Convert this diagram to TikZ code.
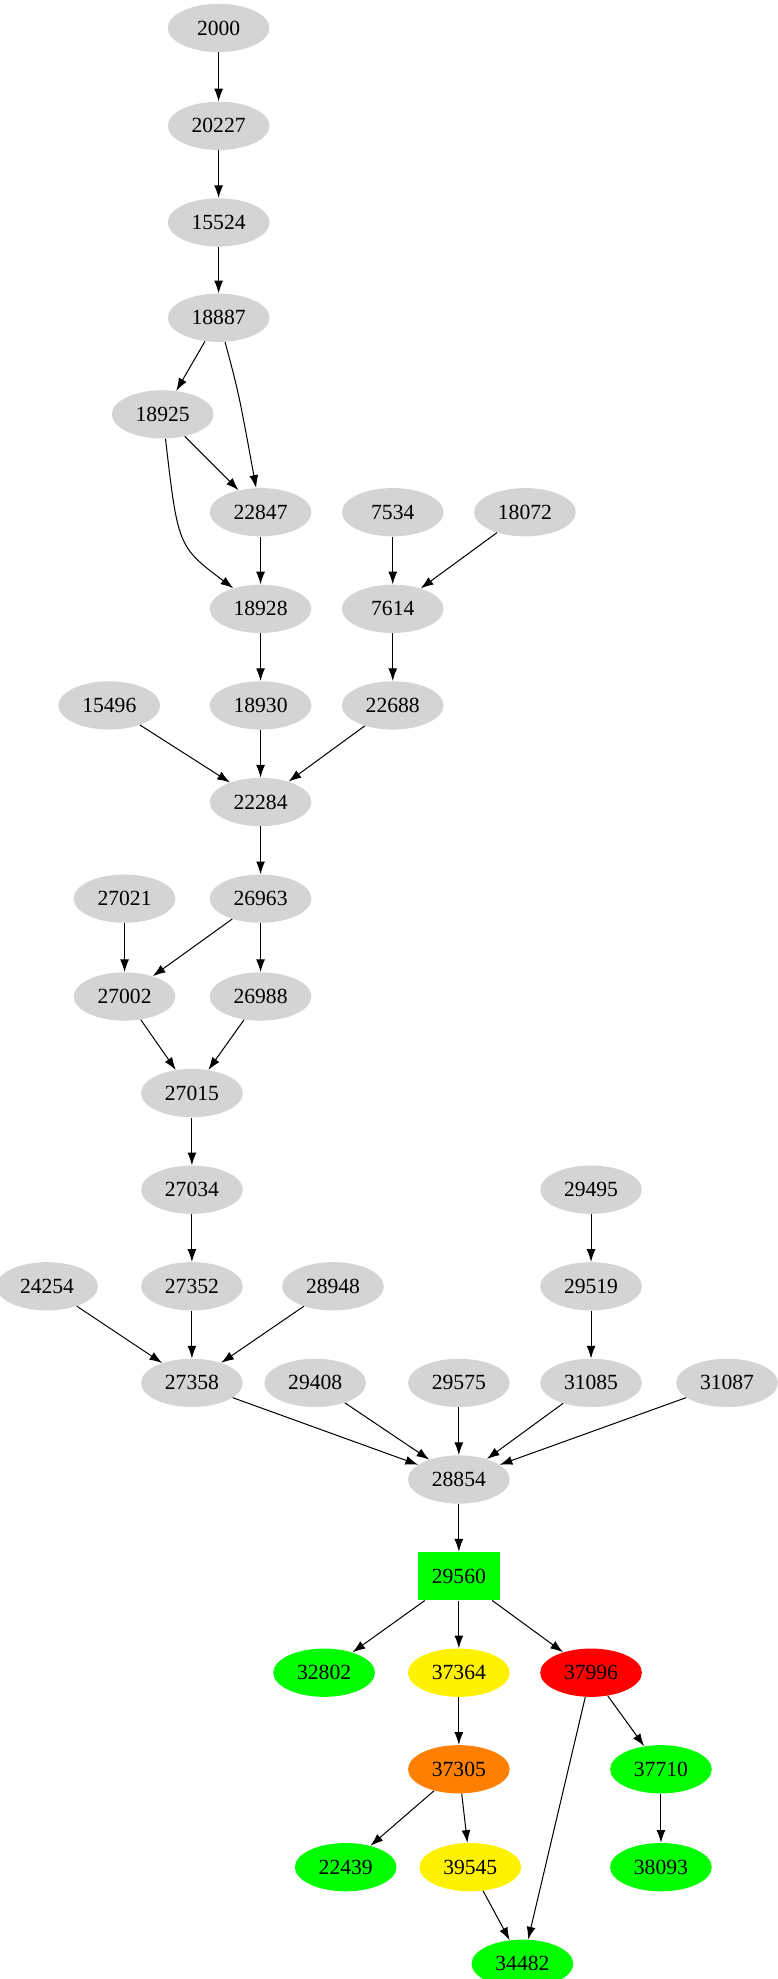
\documentclass[tikz,border=0pt]{standalone}
\usepackage{fontspec}
\setmainfont{Liberation Serif}
\usetikzlibrary{shapes.geometric,arrows.meta}
\begin{document}
\begin{tikzpicture}[x=1pt,y=-1pt,
  nd/.style={ellipse,fill=#1,minimum width=80pt,minimum height=38pt,inner sep=0pt,font=\fontsize{17}{17}\selectfont},
  nd/.default={black!17},
  bx/.style={rectangle,fill=#1,minimum width=64pt,minimum height=38pt,inner sep=0pt,font=\fontsize{17}{17}\selectfont},
  e/.style={-{Latex[length=10pt,width=7pt]},line width=0.8pt}]
\useasboundingbox (0,0) rectangle (612,1557);
\node[nd] (n2000) at (172,22) {2000};
\node[nd] (n20227) at (172,99) {20227};
\node[nd] (n15524) at (172,175) {15524};
\node[nd] (n18887) at (172,250) {18887};
\node[nd] (n18925) at (128,326) {18925};
\node[nd] (n22847) at (205,403) {22847};
\node[nd] (n7534) at (309,403) {7534};
\node[nd] (n18072) at (413,403) {18072};
\node[nd] (n18928) at (205,479) {18928};
\node[nd] (n7614) at (309,479) {7614};
\node[nd] (n15496) at (86,555) {15496};
\node[nd] (n18930) at (205,555) {18930};
\node[nd] (n22688) at (309,555) {22688};
\node[nd] (n22284) at (205,631) {22284};
\node[nd] (n27021) at (98,707) {27021};
\node[nd] (n26963) at (205,707) {26963};
\node[nd] (n27002) at (98,784) {27002};
\node[nd] (n26988) at (205,784) {26988};
\node[nd] (n27015) at (151,860) {27015};
\node[nd] (n27034) at (151,936) {27034};
\node[nd] (n29495) at (465,936) {29495};
\node[nd] (n24254) at (37,1012) {24254};
\node[nd] (n27352) at (151,1012) {27352};
\node[nd] (n28948) at (262,1012) {28948};
\node[nd] (n29519) at (465,1012) {29519};
\node[nd] (n27358) at (151,1088) {27358};
\node[nd] (n29408) at (248,1088) {29408};
\node[nd] (n29575) at (361,1088) {29575};
\node[nd] (n31085) at (465,1088) {31085};
\node[nd] (n31087) at (572,1088) {31087};
\node[nd] (n28854) at (361,1164) {28854};
\node[bx=green] (n29560) at (361,1240) {29560};
\node[nd=green] (n32802) at (255,1316) {32802};
\node[nd=yellow] (n37364) at (361,1316) {37364};
\node[nd=red] (n37996) at (465,1316) {37996};
\node[nd=orange] (n37305) at (361,1392) {37305};
\node[nd=green] (n37710) at (520,1392) {37710};
\node[nd=green] (n22439) at (272,1469) {22439};
\node[nd=yellow] (n39545) at (370,1469) {39545};
\node[nd=green] (n38093) at (520,1469) {38093};
\node[nd=green] (n34482) at (411,1545) {34482};
\draw[e] (n2000)--(n20227);
\draw[e] (n20227)--(n15524);
\draw[e] (n15524)--(n18887);
\draw[e] (n18887)--(n18925);
\draw[e] (n18887) .. controls (188,310) .. (n22847);
\draw[e] (n18925)--(n22847);
\draw[e] (n18925) .. controls (140,430) .. (n18928);
\draw[e] (n22847)--(n18928);
\draw[e] (n7534)--(n7614);
\draw[e] (n18072)--(n7614);
\draw[e] (n18928)--(n18930);
\draw[e] (n7614)--(n22688);
\draw[e] (n15496)--(n22284);
\draw[e] (n18930)--(n22284);
\draw[e] (n22688)--(n22284);
\draw[e] (n22284)--(n26963);
\draw[e] (n27021)--(n27002);
\draw[e] (n26963)--(n27002);
\draw[e] (n26963)--(n26988);
\draw[e] (n27002)--(n27015);
\draw[e] (n26988)--(n27015);
\draw[e] (n27015)--(n27034);
\draw[e] (n27034)--(n27352);
\draw[e] (n29495)--(n29519);
\draw[e] (n24254)--(n27358);
\draw[e] (n27352)--(n27358);
\draw[e] (n28948)--(n27358);
\draw[e] (n29519)--(n31085);
\draw[e] (n27358)--(n28854);
\draw[e] (n29408)--(n28854);
\draw[e] (n29575)--(n28854);
\draw[e] (n31085)--(n28854);
\draw[e] (n31087)--(n28854);
\draw[e] (n28854)--(n29560);
\draw[e] (n29560)--(n32802);
\draw[e] (n29560)--(n37364);
\draw[e] (n29560)--(n37996);
\draw[e] (n37364)--(n37305);
\draw[e] (n37996)--(n37710);
\draw[e] (n37996)--(n34482);
\draw[e] (n37305)--(n22439);
\draw[e] (n37305)--(n39545);
\draw[e] (n37710)--(n38093);
\draw[e] (n39545)--(n34482);
\end{tikzpicture}
\end{document}
